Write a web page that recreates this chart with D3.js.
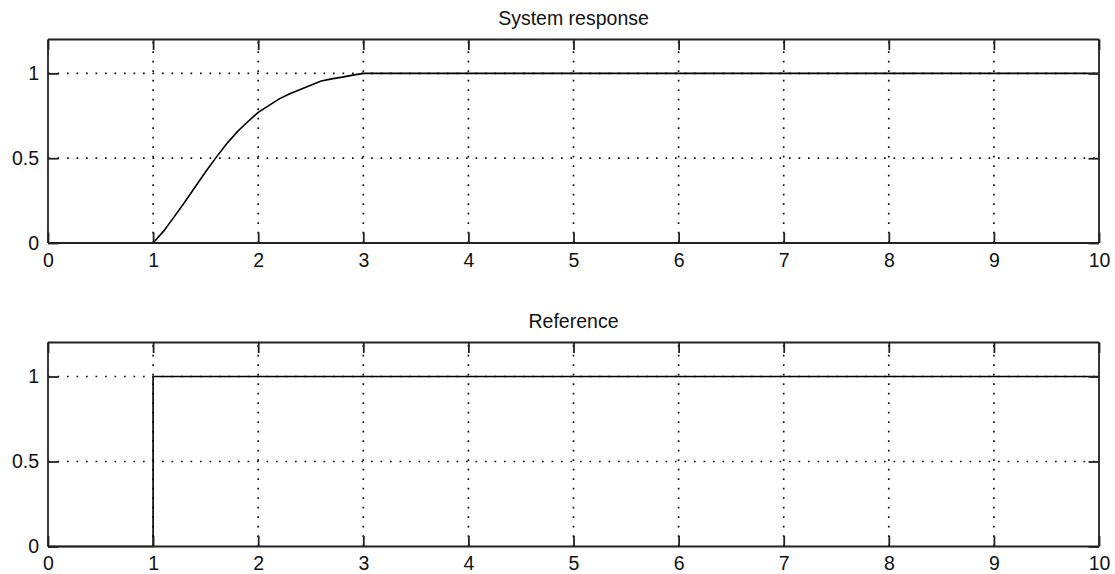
<!DOCTYPE html>
<html>
<head>
<meta charset="utf-8">
<script src="https://cdn.jsdelivr.net/npm/d3@7"></script>
<style>
  html, body { margin: 0; padding: 0; background: #fff; }
  svg { display: block; }
  text { font-family: "Liberation Sans", Arial, sans-serif; fill: #111; }
</style>
</head>
<body>
<svg id="chart" width="1115" height="574"></svg>
<script>
// ---- data ----
const xTicks = [0, 1, 2, 3, 4, 5, 6, 7, 8, 9, 10];
const yTicks = [0, 0.5, 1];
const yTickLabels = ["0", "0.5", "1"];
const titles = ["System response", "Reference"];

const responseT = [0, 1, 1.1, 1.2, 1.3, 1.4, 1.5, 1.6, 1.7, 1.8, 1.9, 2.0, 2.1, 2.2, 2.3, 2.4, 2.5, 2.6, 2.7, 2.8, 2.9, 3.0, 10];
const responseY = [0, 0, 0.07, 0.154, 0.24, 0.33, 0.42, 0.505, 0.585, 0.655, 0.715, 0.77, 0.81, 0.85, 0.88, 0.905, 0.93, 0.955, 0.968, 0.978, 0.99, 1.0, 1.0];

const referenceT = [0, 1, 1, 10];
const referenceY = [0, 0, 1, 1];

// ---- layout ----
const svg = d3.select("#chart");
const left = 48, right = 1099;
const panels = [
  { top: 39.5, bottom: 243, title: titles[0], t: responseT, y: responseY },
  { top: 342.5, bottom: 546.5, title: titles[1], t: referenceT, y: referenceY }
];

const x = d3.scaleLinear().domain([0, 10]).range([left, right]);
const tickLen = 10.5;
const axisColor = "#222";
const fontSize = 19.5;

panels.forEach(p => {
  const y = d3.scaleLinear().domain([0, 1.2]).range([p.bottom, p.top]);
  const g = svg.append("g");

  // grid
  const grid = g.append("g")
    .attr("stroke", "#111").attr("stroke-width", 1.7)
    .attr("stroke-dasharray", "1.7 7.8").attr("fill", "none");
  xTicks.filter(v => v > 0 && v < 10).forEach(v => {
    grid.append("line")
      .attr("x1", x(v)).attr("x2", x(v))
      .attr("y1", p.bottom).attr("y2", p.top);
  });
  yTicks.filter(v => v > 0).forEach(v => {
    grid.append("line")
      .attr("x1", left).attr("x2", right)
      .attr("y1", y(v)).attr("y2", y(v));
  });

  // data line
  const line = d3.line().x((d, i) => x(p.t[i])).y(d => y(d));
  g.append("path")
    .datum(p.y)
    .attr("d", line)
    .attr("fill", "none")
    .attr("stroke", "#000")
    .attr("stroke-width", 1.6);

  // axes (MATLAB box style, inward ticks)
  const bottomAxis = d3.axisBottom(x).tickValues(xTicks).tickSize(-tickLen).tickPadding(10)
    .tickFormat(d3.format("d"));
  const topAxis = d3.axisTop(x).tickValues(xTicks).tickSize(-tickLen).tickFormat("");
  const leftAxis = d3.axisLeft(y).tickValues(yTicks).tickSize(-tickLen).tickPadding(9)
    .tickFormat((d, i) => yTickLabels[i]);
  const rightAxis = d3.axisRight(y).tickValues(yTicks).tickSize(-tickLen).tickFormat("");

  const styleAxis = sel => {
    sel.selectAll("path").attr("stroke", axisColor).attr("stroke-width", 1.8);
    sel.selectAll("line").attr("stroke", axisColor).attr("stroke-width", 1.8);
    sel.selectAll("text").attr("font-size", fontSize)
      .attr("font-family", "Liberation Sans, Arial, sans-serif").attr("fill", "#111");
  };

  g.append("g").attr("transform", `translate(0,${p.bottom})`).call(bottomAxis)
    .call(s => s.selectAll(".domain").attr("d", `M${left},0H${right}`)).call(styleAxis);
  g.append("g").attr("transform", `translate(0,${p.top})`).call(topAxis)
    .call(s => s.selectAll(".domain").attr("d", `M${left},0H${right}`)).call(styleAxis);
  g.append("g").attr("transform", `translate(${left},0)`).call(leftAxis)
    .call(s => s.selectAll(".domain").attr("d", `M0,${p.bottom}V${p.top}`)).call(styleAxis);
  g.append("g").attr("transform", `translate(${right},0)`).call(rightAxis)
    .call(s => s.selectAll(".domain").attr("d", `M0,${p.bottom}V${p.top}`)).call(styleAxis);

  // title
  g.append("text")
    .attr("x", (left + right) / 2)
    .attr("y", p.top - 15)
    .attr("text-anchor", "middle")
    .attr("font-size", fontSize)
    .text(p.title);
});
</script>
</body>
</html>
